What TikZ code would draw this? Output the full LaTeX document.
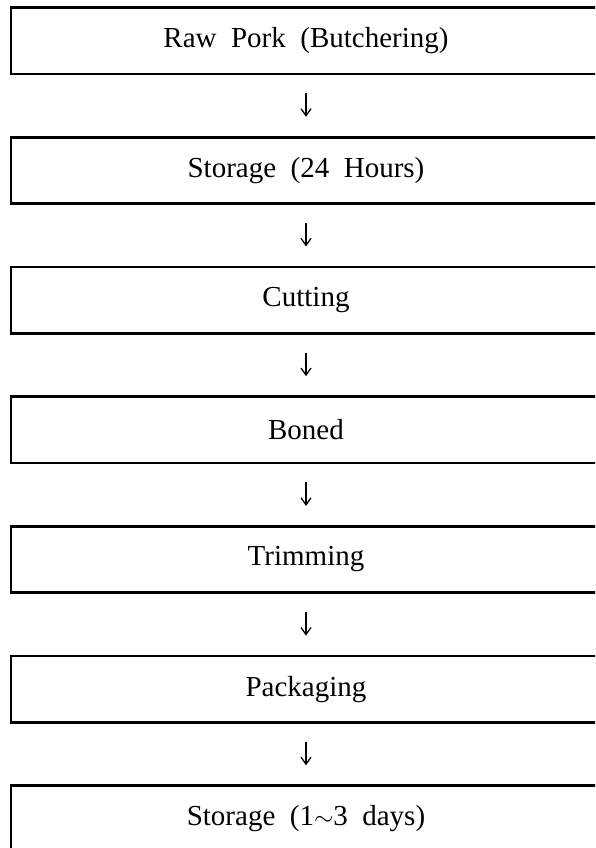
\documentclass[tikz,border=0pt]{standalone}
\usepackage{fontspec}
\setmainfont{Liberation Serif}
\usetikzlibrary{arrows.meta}
\newcommand\wideSpaces{\spaceskip=0.5em\relax}
\begin{document}
\begin{tikzpicture}[x=1pt,y=-1pt,
  stepbox/.style={draw=black,line width=2.7pt,minimum width=590pt,minimum height=66.5pt,
    inner sep=0pt,font=\fontsize{29}{33}\selectfont,execute at begin node=\wideSpaces,anchor=center},
  flow/.style={line width=1.3pt,-{Straight Barb[length=7pt,width=10pt,line width=1.3pt]}}]
\useasboundingbox (0,0) rectangle (595,848);
\clip (0,0) rectangle (595,848);
\fill[white] (0,0) rectangle (595,848);
% process steps, top to bottom
\node[stepbox] (b1) at (306,40.7)  {Raw Pork (Butchering)};
\node[stepbox] (b2) at (306,170.4) {Storage (24 Hours)};
\node[stepbox] (b3) at (306,300.1) {Cutting};
\node[stepbox] (b4) at (306,429.8) {Boned};
\node[stepbox] (b5) at (306,559.5) {Trimming};
\node[stepbox] (b6) at (306,689.2) {Packaging};
\node[stepbox] (b7) at (306,818.9) {Storage (1$\sim$3 days)};
% connecting arrows
\foreach \a/\b in {b1/b2,b2/b3,b3/b4,b4/b5,b5/b6,b6/b7}
  \draw[flow] ([yshift=-18pt]\a.south) -- ([yshift=19pt]\b.north);
\end{tikzpicture}
\end{document}
